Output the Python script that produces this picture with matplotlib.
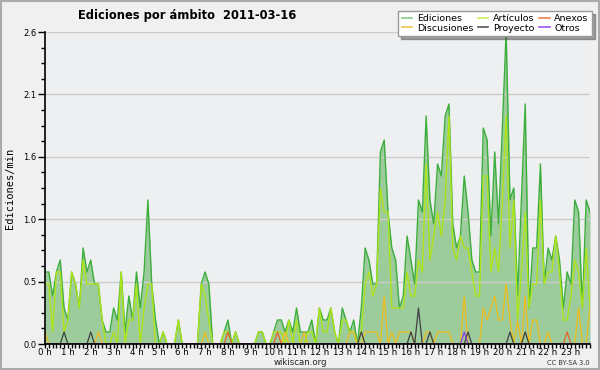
import matplotlib
matplotlib.use("Agg")
import matplotlib.pyplot as plt
import numpy as np
from matplotlib.patches import Rectangle
from matplotlib.lines import Line2D

# 10-minute bins, 6 per hour, 24 hours
ediciones = [
    0.6, 0.6, 0.4, 0.6, 0.7, 0.3,
    0.2, 0.6, 0.5, 0.3, 0.8, 0.6,
    0.7, 0.5, 0.5, 0.2, 0.1, 0.1,
    0.3, 0.2, 0.6, 0.1, 0.4, 0.2,
    0.6, 0.3, 0.6, 1.2, 0.5, 0.2,
    0.0, 0.1, 0.0, 0.0, 0.0, 0.2,
    0.0, 0.0, 0.0, 0.0, 0.0, 0.5,
    0.6, 0.5, 0.0, 0.0, 0.0, 0.1,
    0.2, 0.0, 0.1, 0.0, 0.0, 0.0,
    0.0, 0.0, 0.1, 0.1, 0.0, 0.0,
    0.1, 0.2, 0.2, 0.1, 0.2, 0.1,
    0.3, 0.1, 0.1, 0.1, 0.2, 0.0,
    0.3, 0.2, 0.2, 0.3, 0.1, 0.0,
    0.3, 0.2, 0.1, 0.2, 0.0, 0.3,
    0.8, 0.7, 0.5, 0.5, 1.6, 1.7,
    1.1, 0.8, 0.7, 0.3, 0.4, 0.9,
    0.7, 0.5, 1.2, 1.1, 1.9, 1.2,
    1.0, 1.5, 1.4, 1.9, 2.0, 1.0,
    0.8, 0.9, 1.4, 1.1, 0.7, 0.6,
    0.6, 1.8, 1.7, 0.9, 1.6, 1.0,
    1.8, 2.6, 1.2, 1.3, 0.4, 1.2,
    2.0, 0.3, 0.8, 0.8, 1.5, 0.5,
    0.8, 0.7, 0.9, 0.7, 0.3, 0.6,
    0.5, 1.2, 1.1, 0.3, 1.2, 1.1,
]
articulos = [
    0.5, 0.5, 0.1, 0.6, 0.6, 0.1,
    0.2, 0.6, 0.5, 0.3, 0.7, 0.5,
    0.5, 0.5, 0.5, 0.2, 0.0, 0.0,
    0.1, 0.0, 0.6, 0.0, 0.2, 0.2,
    0.5, 0.0, 0.3, 0.5, 0.5, 0.0,
    0.0, 0.1, 0.0, 0.0, 0.0, 0.2,
    0.0, 0.0, 0.0, 0.0, 0.0, 0.5,
    0.4, 0.2, 0.0, 0.0, 0.0, 0.1,
    0.1, 0.0, 0.1, 0.0, 0.0, 0.0,
    0.0, 0.0, 0.1, 0.1, 0.0, 0.0,
    0.1, 0.1, 0.1, 0.0, 0.2, 0.0,
    0.2, 0.0, 0.0, 0.1, 0.1, 0.0,
    0.3, 0.1, 0.1, 0.3, 0.1, 0.0,
    0.2, 0.2, 0.1, 0.1, 0.0, 0.1,
    0.5, 0.6, 0.4, 0.5, 1.3, 1.1,
    1.1, 0.3, 0.3, 0.3, 0.3, 0.6,
    0.4, 0.4, 0.7, 0.6, 1.5, 0.7,
    0.9, 1.1, 0.9, 1.2, 1.9, 0.8,
    0.7, 0.9, 0.8, 0.8, 0.6, 0.4,
    0.4, 1.4, 1.4, 0.6, 0.8, 0.6,
    1.2, 1.9, 0.8, 1.2, 0.2, 0.6,
    1.1, 0.3, 0.5, 0.5, 1.2, 0.5,
    0.6, 0.6, 0.9, 0.6, 0.2, 0.2,
    0.4, 0.7, 0.6, 0.3, 0.8, 0.3,
]
discusiones = [
    0.1, 0.0, 0.0, 0.0, 0.0, 0.0,
    0.0, 0.0, 0.0, 0.0, 0.0, 0.0,
    0.0, 0.0, 0.1, 0.0, 0.0, 0.0,
    0.0, 0.0, 0.0, 0.0, 0.0, 0.0,
    0.0, 0.0, 0.0, 0.0, 0.0, 0.0,
    0.0, 0.0, 0.0, 0.0, 0.0, 0.0,
    0.0, 0.0, 0.0, 0.0, 0.0, 0.0,
    0.1, 0.0, 0.0, 0.0, 0.0, 0.0,
    0.0, 0.0, 0.0, 0.0, 0.0, 0.0,
    0.0, 0.0, 0.0, 0.0, 0.0, 0.0,
    0.0, 0.0, 0.0, 0.1, 0.0, 0.0,
    0.0, 0.0, 0.1, 0.0, 0.0, 0.0,
    0.0, 0.0, 0.0, 0.0, 0.0, 0.0,
    0.0, 0.0, 0.1, 0.1, 0.0, 0.0,
    0.1, 0.1, 0.1, 0.1, 0.0, 0.4,
    0.0, 0.1, 0.0, 0.1, 0.1, 0.1,
    0.1, 0.0, 0.0, 0.0, 0.1, 0.1,
    0.0, 0.1, 0.1, 0.1, 0.1, 0.0,
    0.0, 0.0, 0.4, 0.0, 0.0, 0.0,
    0.0, 0.3, 0.2, 0.3, 0.4, 0.2,
    0.2, 0.5, 0.2, 0.0, 0.2, 0.0,
    0.4, 0.0, 0.2, 0.2, 0.0, 0.0,
    0.1, 0.0, 0.0, 0.0, 0.0, 0.0,
    0.0, 0.0, 0.3, 0.0, 0.0, 0.3,
]
proyecto = [
    0.0, 0.0, 0.0, 0.0, 0.0, 0.1,
    0.0, 0.0, 0.0, 0.0, 0.0, 0.0,
    0.1, 0.0, 0.0, 0.0, 0.0, 0.0,
    0.0, 0.0, 0.0, 0.0, 0.0, 0.0,
    0.0, 0.0, 0.0, 0.0, 0.0, 0.0,
    0.0, 0.0, 0.0, 0.0, 0.0, 0.0,
    0.0, 0.0, 0.0, 0.0, 0.0, 0.0,
    0.0, 0.0, 0.0, 0.0, 0.0, 0.0,
    0.0, 0.0, 0.0, 0.0, 0.0, 0.0,
    0.0, 0.0, 0.0, 0.0, 0.0, 0.0,
    0.0, 0.0, 0.0, 0.0, 0.0, 0.0,
    0.0, 0.0, 0.0, 0.0, 0.0, 0.0,
    0.0, 0.0, 0.0, 0.0, 0.0, 0.0,
    0.0, 0.0, 0.0, 0.0, 0.0, 0.1,
    0.0, 0.0, 0.0, 0.0, 0.0, 0.0,
    0.0, 0.0, 0.0, 0.0, 0.0, 0.0,
    0.1, 0.0, 0.3, 0.0, 0.0, 0.1,
    0.0, 0.0, 0.0, 0.0, 0.0, 0.0,
    0.0, 0.0, 0.0, 0.1, 0.0, 0.0,
    0.0, 0.0, 0.0, 0.0, 0.0, 0.0,
    0.0, 0.0, 0.1, 0.0, 0.0, 0.0,
    0.1, 0.0, 0.0, 0.0, 0.0, 0.0,
    0.0, 0.0, 0.0, 0.0, 0.0, 0.0,
    0.0, 0.0, 0.0, 0.0, 0.0, 0.0,
]
anexos = [0.0] * 144
anexos_nonzero = {48: 0.1, 61: 0.1, 137: 0.1}
for k, v in anexos_nonzero.items():
    anexos[k] = v
otros = [0.0] * 144
otros_nonzero = {110: 0.1}
for k, v in otros_nonzero.items():
    otros[k] = v

hour_labels = [f"{h} h" for h in range(24)]
ytick_vals = [0.0, 0.52, 1.04, 1.56, 2.08, 2.6]
ytick_labels = ["0.0", "0.5", "1.0", "1.6", "2.1", "2.6"]

x = np.arange(len(ediciones))

fig = plt.figure(figsize=(6.0, 3.7), dpi=100, facecolor="#f0f0f0")
ax = fig.add_axes([45/600, 26/370, 545/600, 312/370])
ax.set_facecolor("#eeeff1")

ax.fill_between(x, ediciones, 0, color="#9ccb9c", lw=0, zorder=2)
ax.plot(x, ediciones, color="#3cae3c", lw=1.0, zorder=3)
ax.plot(x, articulos, color="#aee41a", lw=1.0, zorder=4)
ax.plot(x, discusiones, color="#f0be1c", lw=0.9, zorder=5)
ax.plot(x, proyecto, color="#404040", lw=0.9, zorder=6)
ax.plot(x, anexos, color="#e8642c", lw=0.9, zorder=6)
ax.plot(x, otros, color="#8a3ce6", lw=0.9, zorder=7)

ax.set_xlim(0, 143)
ax.set_ylim(0, 2.6)
ax.set_xticks(np.arange(0, 144, 6))
ax.set_xticklabels(hour_labels, fontsize=6.2)
ax.set_xticks(np.arange(0, 144, 1), minor=True)
ax.set_yticks(ytick_vals)
ax.set_yticklabels(ytick_labels, fontsize=6)
ax.set_yticks(np.arange(0, 2.61, 0.13), minor=True)
ax.tick_params(axis="x", which="major", length=3, width=1, pad=0, direction="out")
ax.tick_params(axis="x", which="minor", length=3, width=1, direction="out")
ax.tick_params(axis="y", which="major", length=5, width=1, pad=1, direction="out")
ax.tick_params(axis="y", which="minor", length=3, width=1, direction="out")
ax.grid(axis="y", which="major", color="#cccccc", lw=1, zorder=1)
ax.set_axisbelow(False)
for s in ["top", "right"]:
    ax.spines[s].set_visible(False)
for s in ["left", "bottom"]:
    ax.spines[s].set_color("black")
    ax.spines[s].set_linewidth(1.2)
    ax.spines[s].set_zorder(10)

ax.set_ylabel("Ediciones/min", fontsize=7.5, family="DejaVu Sans Mono", labelpad=6)

fig.text(0.312, 0.957, "Ediciones por ámbito  2011-03-16", fontsize=8.3,
         fontweight="bold", ha="center", va="center")
fig.text(0.5, 0.021, "wikiscan.org", fontsize=6.2, ha="center", va="center", color="#222222")
fig.text(0.982, 0.018, "CC BY-SA 3.0", fontsize=4.8, ha="right", va="center", color="#333333")

handles = [
    Line2D([], [], color="#88d088", lw=1.2, label="Ediciones"),
    Line2D([], [], color="#f0c850", lw=1.2, label="Discusiones"),
    Line2D([], [], color="#ccee55", lw=1.2, label="Artículos"),
    Line2D([], [], color="#555555", lw=1.2, label="Proyecto"),
    Line2D([], [], color="#f08050", lw=1.2, label="Anexos"),
    Line2D([], [], color="#9955ee", lw=1.2, label="Otros"),
]
leg = fig.legend(handles=handles, ncol=3, loc="upper right",
                 bbox_to_anchor=(592/600, 1 - 11/370), fontsize=6.8,
                 frameon=True, fancybox=False, shadow=True,
                 handlelength=1.1, handletextpad=0.5, columnspacing=0.5,
                 labelspacing=0.05, borderpad=0.35, borderaxespad=0)
leg.get_frame().set_edgecolor("#999999")
leg.get_frame().set_linewidth(1)

fig.patches.append(Rectangle((0.0015, 0.002), 0.997, 0.995, transform=fig.transFigure,
                             fill=False, edgecolor="#aaaaaa", lw=1.5))

fig.savefig("out.png", dpi=100, facecolor=fig.get_facecolor())
